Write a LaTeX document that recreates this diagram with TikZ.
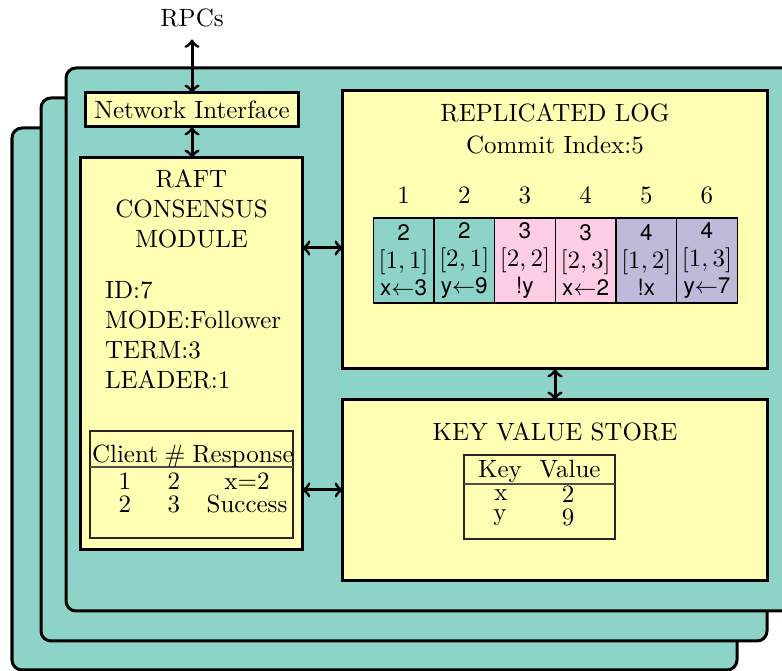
\documentclass[tikz,border=0pt]{standalone}
\usepackage{fontspec}
\newfontfamily\cellfont{TeX Gyre Heros}

\definecolor{panelteal}{HTML}{8DD3C7}
\definecolor{boxyellow}{HTML}{FFFFB3}
\definecolor{entrypink}{HTML}{FCCDE5}
\definecolor{entrylilac}{HTML}{BEBADA}

\tikzset{
  panel/.style={draw=black, line width=1.2pt, fill=panelteal, rounded corners=4pt},
  module/.style={draw=black, line width=1.2pt, fill=boxyellow, inner sep=0pt, outer sep=0pt, align=center},
  link/.style={<->, line width=1.2pt},
  txt/.style={inner sep=0pt, outer sep=0pt},
  entry/.style={draw=black, line width=0.5pt, minimum width=24.27pt, minimum height=34pt,
                inner sep=0pt, outer sep=0pt, align=center, font=\cellfont\small},
  tablebox/.style={draw=black!85, line width=0.55pt, inner sep=0pt, outer sep=0pt},
  rule/.style={draw=black!70, line width=0.7pt}
}

\begin{document}
\begin{tikzpicture}[x=0.4pt, y=-0.4pt]
\useasboundingbox (0,0) rectangle (782,671);
\clip (0,0) rectangle (782,671);

% stacked server panels, back to front
\draw[panel] (12,128) rectangle (737,670);
\draw[panel] (41,98) rectangle (767,641);
\draw[panel] (66,68) rectangle (794,611);

% main modules
\node[module, minimum width=84.8pt, minimum height=13.6pt] (ni) at (192,110) {Network Interface};
\node[module, minimum width=88.4pt, minimum height=156.8pt] (raft) at (191.5,354) {};
\node[module, minimum width=169.6pt, minimum height=111.2pt] (log) at (555,230) {};
\node[module, minimum width=169.6pt, minimum height=72.4pt] (kv) at (555,490.5) {};

% external RPC endpoint
\node[txt, anchor=base] (rpc) at (192,27) {RPCs};

% connectors
\coordinate (upper) at (0,248);
\coordinate (lower) at (0,490);
\draw[link] ([yshift=-5pt]rpc.base) -- (ni.north);
\draw[link] (ni.south) -- (ni.south |- raft.north);
\draw[link] (raft.east |- upper) -- (log.west |- upper);
\draw[link] (raft.east |- lower) -- (kv.west |- lower);
\draw[link] (log.south) -- (kv.north);

% consensus module contents
\node[txt, align=center] (rafttitle) at (191.5,208.5) {RAFT\\CONSENSUS\\MODULE};
\node[txt, align=left, anchor=west] (state) at (105,335) {ID:7\\MODE:Follower\\TERM:3\\LEADER:1};

% client table
\node[tablebox, minimum width=81.2pt, minimum height=42.8pt] (clients) at (191.5,484.5) {};
\coordinate (chead) at (0,467);
\draw[rule] (clients.west |- chead) -- (clients.east |- chead);
\node[txt, anchor=base] (hclient) at (125,463) {Client};
\node[txt, anchor=base] (hnum) at (175,463) {\#};
\node[txt, anchor=base] (hresp) at (243,463) {Response};
\node[txt, anchor=base] (r1c) at (125,490) {1};
\node[txt, anchor=base] (r1n) at (174,490) {2};
\node[txt, anchor=base] (r1r) at (247,490) {x=2};
\node[txt, anchor=base] (r2c) at (125,513) {2};
\node[txt, anchor=base] (r2n) at (174,513) {3};
\node[txt, anchor=base] (r2r) at (247,513) {Success};

% replicated log contents
\node[txt] (logtitle) at (555,113) {REPLICATED LOG};
\node[txt] (commit) at (555,145) {Commit Index:5};
\foreach \i/\c/\t/\p/\o in {
    1/panelteal/2/{$[1,1]$}/{x$\leftarrow$3},
    2/panelteal/2/{$[2,1]$}/{y$\leftarrow$9},
    3/entrypink/3/{$[2,2]$}/{!y},
    4/entrypink/3/{$[2,3]$}/{x$\leftarrow$2},
    5/entrylilac/4/{$[1,2]$}/{!x},
    6/entrylilac/4/{$[1,3]$}/{y$\leftarrow$7}} {
  \node[txt] (idx\i) at (373.3+60.67*\i-30.33,195) {\i};
  \node[entry, fill=\c] (e\i) at (373.3+60.67*\i-30.33,260.5) {\t\\{\normalsize\p}\\\o};
}

% key value store contents
\node[txt] (kvtitle) at (555,432) {KEY VALUE STORE};
\node[tablebox, minimum width=60.4pt, minimum height=33.6pt] (kvtab) at (539.5,497) {};
\coordinate (khead) at (0,484);
\draw[rule] (kvtab.west |- khead) -- (kvtab.east |- khead);
\node[txt, anchor=base] (hkey) at (500,478) {Key};
\node[txt, anchor=base] (hval) at (570,478) {Value};
\node[txt, anchor=base] (kx) at (501,501) {x};
\node[txt, anchor=base] (ky) at (500,521) {y};
\node[txt, anchor=base] (vx) at (568,503) {2};
\node[txt, anchor=base] (vy) at (568,526) {9};
\end{tikzpicture}
\end{document}
